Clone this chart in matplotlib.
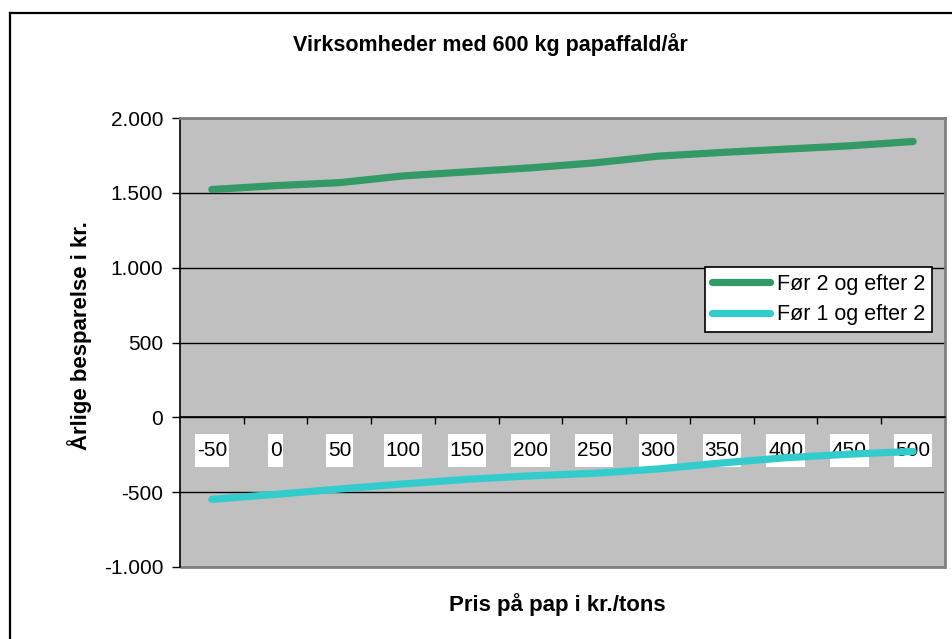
import matplotlib
matplotlib.use("Agg")
from matplotlib import pyplot as plt
from matplotlib.lines import Line2D
from matplotlib.patches import Rectangle

plt.rcParams['font.family'] = ['Liberation Sans', 'DejaVu Sans']

priser = ["-50", "0", "50", "100", "150", "200", "250", "300", "350", "400", "450", "500"]
foer2_efter2 = [1522, 1548, 1568, 1613, 1640, 1667, 1700, 1745, 1770, 1792, 1814, 1843]
foer1_efter2 = [-548, -515, -479, -445, -414, -391, -374, -345, -305, -270, -246, -228]
y_ticks = [-1000, -500, 0, 500, 1000, 1500, 2000]
y_labels = ["-1.000", "-500", "0", "500", "1.000", "1.500", "2.000"]

W, H = 953, 639


def draw_graph():
    fig = plt.figure(figsize=(W / 100, H / 100), dpi=100)
    ax = fig.add_axes([180 / W, 1 - 567 / H, 765 / W, 449 / H])
    ax.set_facecolor("#C0C0C0")

    x = list(range(len(priser)))
    ax.plot(x, foer2_efter2, color="#339966", lw=5.2, solid_capstyle="round",
            solid_joinstyle="round", label="Før 2 og efter 2", zorder=3)
    ax.plot(x, foer1_efter2, color="#33CCCC", lw=5.2, solid_capstyle="round",
            solid_joinstyle="round", label="Før 1 og efter 2", zorder=3)

    ax.set_xlim(-0.5, len(priser) - 0.5)
    ax.set_ylim(-1000, 2000)
    ax.set_yticks(y_ticks)
    ax.set_yticklabels(y_labels, fontsize=15)
    ax.yaxis.grid(True, color="black", lw=1)
    ax.set_axisbelow(True)
    ax.tick_params(axis="y", direction="out", length=6, width=1, pad=6)

    # x-akse ved 0 med etiketter i hvide bokse
    ax.spines["bottom"].set_position(("data", 0))
    ax.spines["bottom"].set_linewidth(1.2)
    ax.set_xticks(x)
    ax.set_xticklabels(priser, fontsize=15)
    ax.set_xticks([i + 0.5 for i in x[:-1]], minor=True)
    ax.tick_params(axis="x", which="major", length=0, pad=17)
    ax.tick_params(axis="x", which="minor", direction="out", length=5, width=1)
    for lab in ax.get_xticklabels():
        lab.set_bbox(dict(boxstyle="square,pad=0.08", mutation_aspect=4,
                          facecolor="white", edgecolor="none"))
        lab.set_zorder(5)

    for s in ["top", "right"]:
        ax.spines[s].set_color("#808080")
        ax.spines[s].set_linewidth(2)
    ax.spines["left"].set_linewidth(1.2)
    ax.add_patch(Rectangle((0, 0), 1, 0, transform=ax.transAxes, fill=False,
                           edgecolor="#808080", lw=2, clip_on=False))

    leg = ax.legend(loc="upper right", bbox_to_anchor=(0.983, 0.668), borderaxespad=0,
                    fontsize=15.5, frameon=True, fancybox=False, framealpha=1,
                    edgecolor="black", handlelength=2.7, handletextpad=0.35,
                    borderpad=0.3, labelspacing=0.45)
    leg.get_frame().set_linewidth(1.2)
    leg.set_zorder(6)

    fig.text(490 / W, 1 - 45 / H, "Virksomheder med 600 kg papaffald/år",
             ha="center", va="center", fontsize=15.5, fontweight="bold")
    fig.text(80 / W, 1 - 336 / H, "Årlige besparelse i kr.", rotation=90,
             ha="center", va="center", fontsize=16, fontweight="bold")
    fig.text(557 / W, 1 - 605 / H, "Pris på pap i kr./tons",
             ha="center", va="center", fontsize=16, fontweight="bold")

    # ramme om diagrammet
    fig.add_artist(Line2D([10 / W, 10 / W], [0, 1 - 13 / H], color="black", lw=1.6))
    fig.add_artist(Line2D([10 / W, 1], [1 - 13 / H, 1 - 13 / H], color="black", lw=1.6))

    fig.savefig("out.png", dpi=100)


if __name__ == "__main__":
    draw_graph()
